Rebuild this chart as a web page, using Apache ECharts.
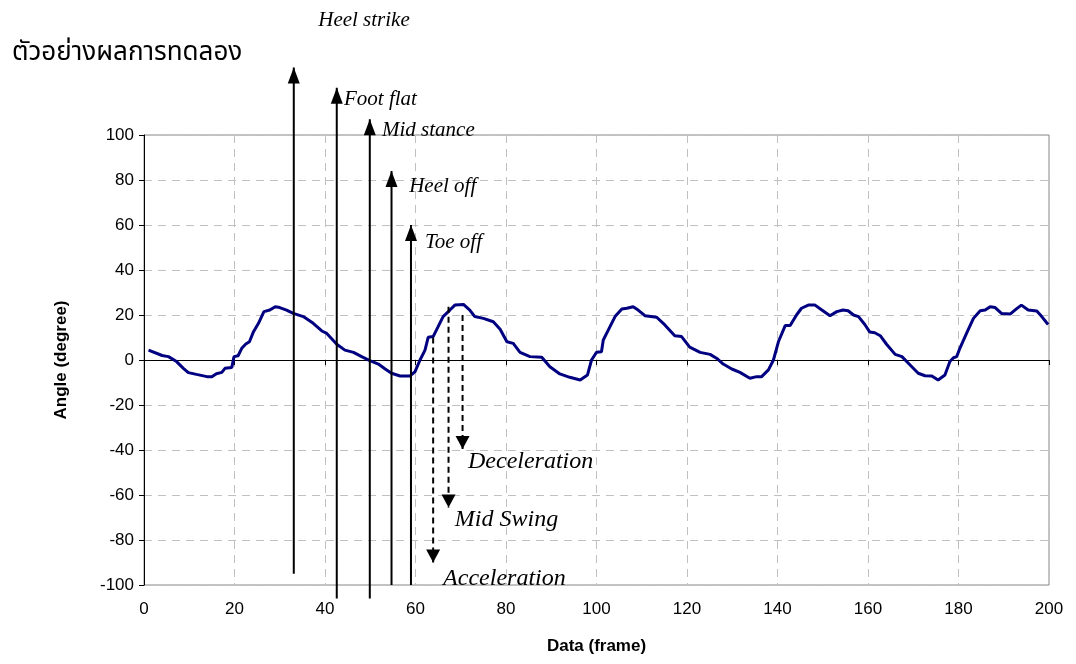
<!DOCTYPE html>
<html>
<head>
<meta charset="utf-8">
<script src="https://cdn.jsdelivr.net/npm/echarts@6/dist/echarts.min.js"></script>
<style>
  html, body { margin: 0; padding: 0; background: #fff; }
  #echarts { width: 1076px; height: 664px; }
</style>
</head>
<body>
<div id="echarts"></div>
<script>
// ข้อมูลมุมข้อเข่า อ่านจากกราฟ (frame, degree)
var frames = [1, 4, 5.4, 7.2, 8.7, 9.8, 11.6, 13.9, 15, 16, 17.2, 17.9, 19.4, 19.9, 20.8, 21.6, 22.5, 23.3, 24.2, 25.3,
  26.5, 27.8, 29, 30, 31.5, 33, 35.2, 37.4, 39.3, 40.4, 42.6, 44.4, 46.3, 48.1, 49.9, 51.8, 53.3, 54.7, 56.6, 58.8,
  59.9, 61, 62.1, 62.8, 63.9, 65, 66.1, 67.6, 68.7, 70.6, 72, 73.1, 75, 77.2, 78.7, 80.2, 81.6, 83.1, 85.3, 87.9,
  89.7, 91.9, 94.1, 96.4, 98, 98.9, 100, 101.1, 101.5, 102.6, 104.1, 105.6, 106.7, 108.1, 109.2, 110.7, 113.3, 115.1, 117.3, 118.8,
  120.6, 122.9, 125.1, 126.6, 128, 129.9, 131.7, 133.9, 135.4, 136.5, 138, 139.1, 140.2, 141.7, 142.8, 144.2, 145.3, 146.8, 148.3, 149.8,
  151.6, 153.1, 154.5, 155.6, 156.8, 157.9, 159.3, 160.4, 161.5, 162.7, 164.1, 166, 167.5, 169.3, 171.1, 172.6, 174.1, 175.5, 177, 178.1,
  178.9, 179.6, 180.3, 181.8, 183.3, 184.8, 185.9, 187, 188.1, 189.5, 191.4, 192.8, 193.9, 195.4, 197.3, 198.4, 199.8];
var angles = [4.4, 2, 1.5, -0.7, -3.7, -5.6, -6.4, -7.4, -7.4, -6.1, -5.5, -3.7, -3.3, 1.5, 1.9, 5.2, 7.1, 8.1, 12.6, 16.3,
  21.5, 22.2, 23.7, 23.3, 22.2, 20.7, 19.3, 16.3, 12.9, 11.8, 7, 4.4, 3.4, 1.5, -0.3, -1.8, -4, -5.9, -7.1, -7.1,
  -5.2, 0, 4.4, 10.1, 10.4, 14.8, 19.3, 22.2, 24.4, 24.7, 22.2, 19.3, 18.5, 17, 13.7, 8.1, 7.4, 3.4, 1.5, 1.2,
  -3, -6.2, -7.7, -8.9, -6.7, 0, 3.4, 3.7, 8.9, 13.3, 19.3, 22.7, 23, 23.7, 22.2, 19.7, 19, 15.6, 10.8, 10.4,
  5.7, 3.4, 2.5, 0.7, -1.8, -4, -5.5, -8.1, -7.4, -7.4, -4.4, 0, 8.1, 15.3, 15.3, 20, 23, 24.4, 24.4, 22.2,
  19.7, 21.5, 22.2, 21.9, 20, 19.3, 15.8, 12.4, 12.1, 10.8, 7, 2.5, 1.5, -2.2, -5.9, -7, -7.1, -8.9, -6.7, -0.7,
  1, 1.5, 5.2, 11.9, 18.5, 21.9, 22.2, 23.7, 23.3, 20.7, 20.4, 22.7, 24.4, 22.2, 21.8, 19.3, 15.8];

// ช่วง stance (ลูกศรทึบชี้ขึ้น)
var stanceNames = ['Heel strike', 'Foot flat', 'Mid stance', 'Heel off', 'Toe off'];
var stanceFrames = [33.1, 42.6, 49.9, 54.7, 59.0];
var stanceBottom = [-95, -106, -106, -100, -100];
var stanceTop = [130, 121, 107, 84, 60];
var stanceLabelAt = [[38.5, 151], [44.2, 115.6], [52.6, 102.2], [58.6, 77.3], [62.1, 52.4]];

// ช่วง swing (ลูกศรประชี้ลง)
var swingNames = ['Acceleration', 'Mid Swing', 'Deceleration'];
var swingFrames = [63.9, 67.3, 70.4];
var swingStart = [10, 23.7, 20];
var swingEnd = [-90, -65.6, -39.6];
var swingLabelAt = [[66.1, -97.3], [68.7, -71.1], [71.6, -45.3]];

var xTicks = [0, 20, 40, 60, 80, 100, 120, 140, 160, 180, 200];
var yTicks = [-100, -80, -60, -40, -20, 0, 20, 40, 60, 80, 100];

var myEChart = echarts.init(document.getElementById('echarts'));

var curve = [];
for (var i = 0; i < frames.length; i++) {
    curve.push([frames[i], angles[i]]);
}

var seriesArray = [{
    name: 'angle',
    type: 'line',
    xAxisIndex: 0,
    symbol: 'none',
    lineStyle: { color: '#000080', width: 3 },
    data: curve,
    z: 2
}];

stanceFrames.forEach(function (f, k) {
    seriesArray.push({
        type: 'line',
        xAxisIndex: 0,
        clip: false,
        symbol: 'none',
        lineStyle: { color: '#000', width: 2 },
        data: [
            { value: [f, stanceBottom[k]], symbol: 'none' },
            { value: [f, stanceTop[k]], symbol: 'triangle', symbolSize: [12, 16], symbolOffset: [0, 8],
              itemStyle: { color: '#000' } }
        ],
        z: 5
    });
});

swingFrames.forEach(function (f, k) {
    seriesArray.push({
        type: 'line',
        xAxisIndex: 0,
        clip: false,
        symbol: 'none',
        lineStyle: { color: '#000', width: 2, type: [6, 4] },
        data: [
            { value: [f, swingStart[k]], symbol: 'none' },
            { value: [f, swingEnd[k]], symbol: 'triangle', symbolSize: [14, 13], symbolRotate: 180,
              symbolOffset: [0, -6.5], itemStyle: { color: '#000' } }
        ],
        z: 5
    });
});

var labelData = [];
stanceNames.forEach(function (n, k) {
    labelData.push({ name: n, value: stanceLabelAt[k] });
});
swingNames.forEach(function (n, k) {
    labelData.push({ name: n, value: swingLabelAt[k], label: { fontSize: 24 } });
});

seriesArray.push({
    type: 'scatter',
    xAxisIndex: 0,
    clip: false,
    symbolSize: 0,
    silent: true,
    itemStyle: { opacity: 1 },
    label: {
        show: true,
        position: 'inside',
        align: 'left',
        verticalAlign: 'middle',
        formatter: '{b}',
        fontFamily: '"Liberation Serif", "DejaVu Serif", serif',
        fontStyle: 'italic',
        fontSize: 21,
        color: '#000',
        opacity: 1,
        textBorderWidth: 0
    },
    data: labelData,
    z: 6
});

var axisFont = '"Liberation Sans", Arial, sans-serif';

var chartOption = {
    animation: false,
    backgroundColor: '#fff',
    title: {
        text: 'ตัวอย่างผลการทดลอง',
        left: 7,
        top: 37,
        textStyle: {
            fontFamily: '"Noto Sans Thai", "Noto Serif Thai", "Loma", "Garuda", "Norasi", sans-serif',
            fontWeight: 'normal',
            fontSize: 26,
            color: '#000'
        }
    },
    grid: {
        left: 144,
        right: 27,
        top: 135,
        bottom: 79,
        show: true,
        borderColor: '#888',
        borderWidth: 1,
        backgroundColor: '#fff'
    },
    xAxis: [{
        type: 'value',
        position: 'bottom',
        min: 0,
        max: 200,
        interval: 20,
        name: 'Data (frame)',
        nameLocation: 'middle',
        nameGap: 53,
        nameTextStyle: { fontFamily: axisFont, fontWeight: 'bold', fontSize: 17, color: '#000' },
        axisLine: { show: false, onZero: false },
        axisTick: { show: false },
        axisLabel: { fontFamily: axisFont, fontSize: 17, color: '#000', margin: 16,
            formatter: function (v) { return xTicks.indexOf(v) >= 0 ? String(v) : ''; } },
        splitLine: { show: true, lineStyle: { color: '#c0c0c0', type: [8, 6] } }
    }, {
        type: 'value',
        position: 'bottom',
        min: 0,
        max: 200,
        interval: 20,
        axisLine: { show: true, onZero: true, lineStyle: { color: '#000', width: 1 } },
        axisTick: { show: true, length: 5, lineStyle: { color: '#000' } },
        axisLabel: { show: false },
        splitLine: { show: false }
    }],
    yAxis: {
        type: 'value',
        min: -100,
        max: 100,
        interval: 20,
        name: 'Angle (degree)',
        nameLocation: 'middle',
        nameGap: 74,
        nameTextStyle: { fontFamily: axisFont, fontWeight: 'bold', fontSize: 17, color: '#000' },
        axisLine: { show: true, onZero: false, lineStyle: { color: '#000', width: 1 } },
        axisTick: { show: true, length: 5, lineStyle: { color: '#000' } },
        axisLabel: { fontFamily: axisFont, fontSize: 17, color: '#000', margin: 10,
            formatter: function (v) { return yTicks.indexOf(v) >= 0 ? String(v) : ''; } },
        splitLine: { show: true, lineStyle: { color: '#c0c0c0', type: [8, 6] } }
    },
    series: seriesArray
};

myEChart.setOption(chartOption);
</script>
</body>
</html>
